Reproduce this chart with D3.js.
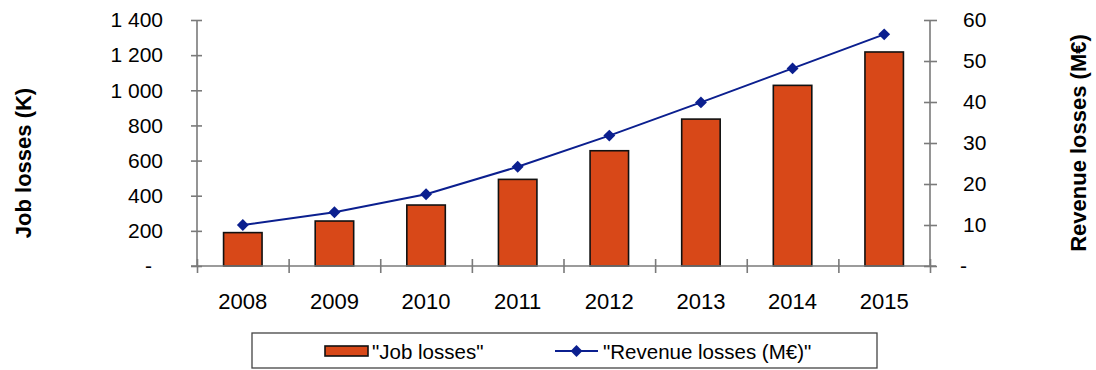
<!DOCTYPE html>
<html>
<head>
<meta charset="utf-8">
<script src="https://cdn.jsdelivr.net/npm/d3@7"></script>
<style>
  html, body { margin: 0; padding: 0; background: #fff; }
  svg { display: block; font-family: "Liberation Sans", Arial, sans-serif; }
</style>
</head>
<body>
<svg id="chart" width="1096" height="370"></svg>
<script>
// Job losses (thousands) and revenue losses (M€) per year
const years = ["2008", "2009", "2010", "2011", "2012", "2013", "2014", "2015"];
const jobLosses = [190, 256, 347, 493, 656, 836, 1028, 1218];
const revenueLosses = [10.0, 13.1, 17.5, 24.2, 31.8, 39.9, 48.2, 56.5];
const leftTicks = [0, 200, 400, 600, 800, 1000, 1200, 1400];
const rightTicks = [0, 10, 20, 30, 40, 50, 60];
const seriesNames = ['"Job losses"', '"Revenue losses (M€)"'];

const svg = d3.select("#chart");
const plot = { left: 197, right: 930, top: 20, bottom: 266 };
const axisColor = "#7a7a7a";
const barColor = "#d84818";
const lineColor = "#0b1f8f";

const x = d3.scaleBand().domain(years).range([plot.left, plot.right]).paddingInner(0).paddingOuter(0);
const yL = d3.scaleLinear().domain([0, 1400]).range([plot.bottom, plot.top]);
const yR = d3.scaleLinear().domain([0, 60]).range([plot.bottom, plot.top]);

// thousands separated by a space, zero shown as a dash
const fmt = d => d === 0 ? "-" : d3.format(",")(d).replace(/,/g, " ");

// bars
const bw = x.bandwidth() * 0.42;
svg.append("g").selectAll("rect").data(jobLosses).join("rect")
  .attr("x", (d, i) => x(years[i]) + x.bandwidth() / 2 - bw / 2)
  .attr("y", d => yL(d))
  .attr("width", bw)
  .attr("height", d => yL(0) - yL(d))
  .attr("fill", barColor)
  .attr("stroke", "#111")
  .attr("stroke-width", 1.6);

// left axis
const gL = svg.append("g").attr("transform", `translate(${plot.left},0)`)
  .call(d3.axisLeft(yL).tickValues(leftTicks).tickFormat(fmt).tickSize(5).tickPadding(29));
// right axis
const gR = svg.append("g").attr("transform", `translate(${plot.right},0)`)
  .call(d3.axisRight(yR).tickValues(rightTicks).tickFormat(fmt).tickSize(6).tickPadding(27));
// bottom axis with ticks at category boundaries
const bounds = d3.range(years.length + 1).map(i => plot.left + i * x.step());
const xb = d3.scaleLinear().domain([plot.left, plot.right]).range([plot.left, plot.right]);
const gB = svg.append("g").attr("transform", `translate(0,${plot.bottom})`)
  .call(d3.axisBottom(xb).tickValues(bounds).tickFormat("").tickSize(6));

[gL, gR, gB].forEach(g => {
  g.select(".domain").attr("stroke", axisColor).attr("stroke-width", 1.6);
  g.selectAll(".tick line").attr("stroke", axisColor).attr("stroke-width", 1.6);
  g.selectAll("text").attr("font-size", 21).attr("fill", "#000")
    .attr("font-family", "'Liberation Sans', Arial, sans-serif");
});
// ticks cross the axis lines
gL.selectAll(".tick line").attr("x1", 5).attr("x2", -6);
gR.selectAll(".tick line").attr("x1", -6).attr("x2", 7);
gB.selectAll(".tick line").attr("y1", -7).attr("y2", 7);
// zero labels sit a little apart from the numbers
gL.selectAll(".tick text").filter(d => d === 0).attr("x", -45);
gR.selectAll(".tick text").filter(d => d === 0).attr("x", 30);
// axis lines span the plot only
gL.select(".domain").attr("d", `M0,${plot.top}V${plot.bottom}`);
gR.select(".domain").attr("d", `M0,${plot.top}V${plot.bottom}`);
gB.select(".domain").attr("d", `M${plot.left - 6},0H${plot.right + 6}`);

// category labels
svg.append("g").selectAll("text").data(years).join("text")
  .attr("x", d => x(d) + x.bandwidth() / 2)
  .attr("y", 309)
  .attr("text-anchor", "middle")
  .attr("font-size", 22)
  .text(d => d);

// revenue line with diamond markers
const cx = (d, i) => x(years[i]) + x.bandwidth() / 2;
svg.append("path").datum(revenueLosses)
  .attr("fill", "none").attr("stroke", lineColor).attr("stroke-width", 2)
  .attr("d", d3.line().x(cx).y(d => yR(d)));
const diamond = d3.symbol().type(d3.symbolDiamond2).size(90);
svg.append("g").selectAll("path").data(revenueLosses).join("path")
  .attr("transform", (d, i) => `translate(${cx(d, i)},${yR(d)})`)
  .attr("d", diamond)
  .attr("fill", lineColor);

// axis titles
svg.append("text")
  .attr("transform", "translate(23,163) rotate(-90)")
  .attr("text-anchor", "middle").attr("dominant-baseline", "central")
  .attr("font-size", 22).attr("font-weight", "bold")
  .text("Job losses (K)");
svg.append("text")
  .attr("transform", "translate(1078,143) rotate(-90)")
  .attr("text-anchor", "middle").attr("dominant-baseline", "central")
  .attr("font-size", 22).attr("font-weight", "bold")
  .text("Revenue losses (M€)");

// legend
const lg = svg.append("g");
lg.append("rect").attr("x", 252).attr("y", 333).attr("width", 625).attr("height", 35)
  .attr("fill", "#fff").attr("stroke", "#444").attr("stroke-width", 1.3);
lg.append("rect").attr("x", 325).attr("y", 346).attr("width", 43).attr("height", 10)
  .attr("fill", barColor).attr("stroke", "#111").attr("stroke-width", 1.6);
lg.append("text").attr("x", 372).attr("y", 359).attr("font-size", 20.5).text(seriesNames[0]);
lg.append("line").attr("x1", 555).attr("x2", 598).attr("y1", 351).attr("y2", 351)
  .attr("stroke", lineColor).attr("stroke-width", 2);
lg.append("path").attr("transform", "translate(576.5,351)").attr("d", diamond).attr("fill", lineColor);
lg.append("text").attr("x", 603).attr("y", 359).attr("font-size", 20.5).text(seriesNames[1]);
</script>
</body>
</html>
